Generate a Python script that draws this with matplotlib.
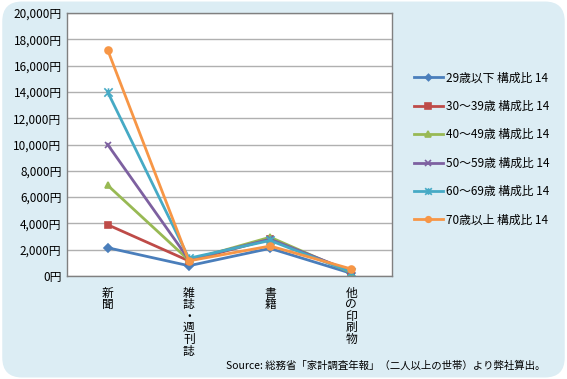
import matplotlib
matplotlib.use("Agg")
import matplotlib.pyplot as plt
from matplotlib.patches import FancyBboxPatch
from matplotlib.path import Path
import numpy as np

plt.rcParams['font.family'] = ['Noto Sans CJK JP', 'DejaVu Sans']

categories = ["新聞", "雑誌・週刊誌", "書籍", "他の印刷物"]
series_names = ["29歳以下 構成比 14", "30～39歳 構成比 14", "40～49歳 構成比 14",
                "50～59歳 構成比 14", "60～69歳 構成比 14", "70歳以上 構成比 14"]
values = [
    [2150, 780, 2100, 200],
    [3900, 1150, 2800, 300],
    [6900, 1200, 2950, 250],
    [10000, 1250, 2800, 350],
    [14000, 1350, 2700, 300],
    [17200, 1150, 2280, 530],
]
yticks = [0, 2000, 4000, 6000, 8000, 10000, 12000, 14000, 16000, 18000, 20000]
ytick_labels = ["0円", "2,000円", "4,000円", "6,000円", "8,000円", "10,000円",
                "12,000円", "14,000円", "16,000円", "18,000円", "20,000円"]
source_text = "Source: 総務省「家計調査年報」（二人以上の世帯）より弊社算出。"

colors = ["#4a7ebb", "#be4b48", "#98b954", "#7d60a0", "#46aac5", "#f79646"]
star = Path([(-1, -1), (1, 1), (-1, 1), (1, -1), (0, -1), (0, 1)],
            [Path.MOVETO, Path.LINETO, Path.MOVETO, Path.LINETO, Path.MOVETO, Path.LINETO])
markers = ["D", "s", "^", "x", star, "o"]
msizes = [4, 5, 5, 5, 6, 5]

W, H = 567, 379
fig = plt.figure(figsize=(W / 100, H / 100), dpi=100)
fig.patch.set_facecolor("white")

bg = FancyBboxPatch((0.004, 0.004), 0.992, 0.992,
                    boxstyle="round,pad=0,rounding_size=0.035",
                    transform=fig.transFigure, facecolor="#dcedf4",
                    edgecolor="none", zorder=-10,
                    mutation_aspect=W / H)
fig.patches.append(bg)

left, right, top, bottom = 67, 392, 13, 276
ax = fig.add_axes([left / W, 1 - bottom / H, (right - left) / W, (bottom - top) / H])
ax.set_zorder(1)
ax.set_facecolor("white")

x = np.arange(len(categories))
for name, vals, c, m, ms in zip(series_names, values, colors, markers, msizes):
    ax.plot(x, vals, color=c, lw=2, marker=m, markersize=ms,
            markeredgecolor=c, markerfacecolor=c, markeredgewidth=1.2, label=name)

ax.set_xlim(-0.5, len(categories) - 0.5)
ax.set_ylim(0, 20000)
ax.set_yticks(yticks)
ax.set_yticklabels(ytick_labels, fontsize=8.5)
ax.yaxis.grid(True, color="#b0b0b0", lw=1)
ax.set_axisbelow(True)
ax.tick_params(axis="y", length=0, pad=4)
ax.set_xticks([])
for s in ax.spines.values():
    s.set_color("#808080")
    s.set_linewidth(1)

for i, cat in enumerate(categories):
    ax.text(i, -0.04, "\n".join(cat), transform=ax.get_xaxis_transform(),
            ha="center", va="top", fontsize=8.5, linespacing=0.86)

handles, labels = ax.get_legend_handles_labels()
leg = fig.legend(handles, labels, loc="upper left",
                 bbox_to_anchor=(403 / W, 1 - 61 / H), frameon=False,
                 fontsize=8.5, labelspacing=1.3, handlelength=2.5,
                 handletextpad=0.2, markerscale=0.8)
leg.set_zorder(2)

fig.text(545 / W, 1 - 366 / H, source_text, ha="right", va="center", fontsize=7.5)

fig.savefig("out.png", dpi=100)
